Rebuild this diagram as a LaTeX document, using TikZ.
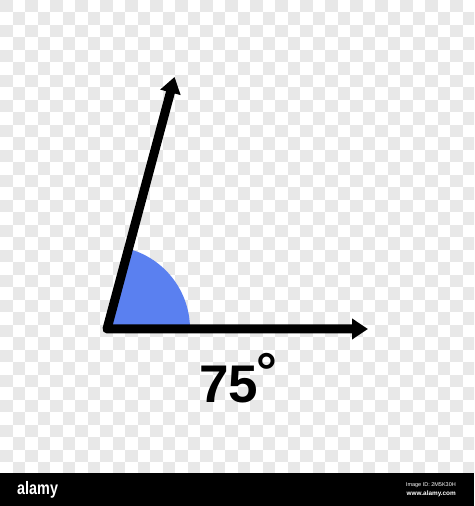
\documentclass[tikz,border=0pt]{standalone}
\usepackage{fontspec}
\setmainfont{Liberation Sans}
\newfontfamily\alamyfont[FakeStretch=0.8]{Liberation Sans}
\usetikzlibrary{arrows.meta,calc}

\definecolor{checkgray}{RGB}{232,232,232}
\definecolor{anglefill}{RGB}{90,128,240}

\begin{document}
\begin{tikzpicture}[
      x=1pt, y=1pt,
      ray/.style={line width=9pt, line join=round,
        {Triangle[length=16pt,width=20pt]}-{Triangle[length=16pt,width=20pt]}},
      sector/.style={fill=anglefill},
      label/.style={inner sep=0pt, font=\bfseries\fontsize{53}{53}\selectfont},
      degree/.style={inner sep=0pt, font=\bfseries\fontsize{52}{52}\selectfont},
      barlabel/.style={inner sep=0pt, text=white}
      ]
  \useasboundingbox (0,0) rectangle (474,506);

  % checker background
  \begin{scope}
    \clip (0,33) rectangle (474,506);
    \foreach \i in {0,...,37}{
      \foreach \j in {0,...,37}{
        \pgfmathtruncatemacro\k{mod(\i+\j,2)}
        \ifnum\k=0
          \fill[checkgray] (12.5*\i,506-12.5*\j) rectangle ++(12.5,-12.5);
        \fi
      }
    }
  \end{scope}

  % the angle
  \coordinate (o) at (107,177);
  \coordinate (a) at ($(o)+(75:261)$);
  \coordinate (b) at (368,177);

  \fill[sector] (o) -- ++(0:83) arc (0:75:83) -- cycle;
  \draw[ray] (a) -- (o) -- (b);

  \node[label, anchor=base] (val) at (229,103) {75};
  \node[degree, anchor=north] (deg) at (267,153) {°};

  % stock bar
  \fill[black] (0,0) rectangle (474,33);
  \node[barlabel, anchor=west, font=\alamyfont\bfseries\fontsize{18}{18}\selectfont] (logo) at (17,16) {alamy};
  \node[barlabel, anchor=east, font=\fontsize{5.5}{6}\selectfont] (imgid) at (456,21) {Image ID: 2M5K30H};
  \node[barlabel, anchor=east, font=\bfseries\fontsize{6.4}{7}\selectfont] (site) at (456,12) {www.alamy.com};

\end{tikzpicture}
\end{document}
